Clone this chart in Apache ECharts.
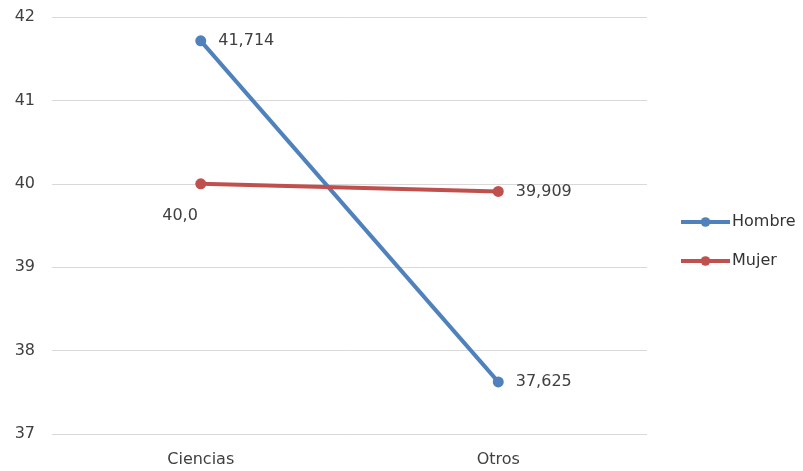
<!DOCTYPE html>
<html><head><meta charset="utf-8">
<script src="https://cdn.jsdelivr.net/npm/echarts@6/dist/echarts.min.js"></script>
<style>html,body{margin:0;padding:0;background:#fff}#c{width:803px;height:471px}</style>
</head><body><div id="c"></div>
<script>
const categories = ['Ciencias', 'Otros'];
const hombre = [41.714, 37.625];
const mujer = [40.0, 39.909];
const hombreLabels = ['41,714', '37,625'];
const mujerLabels = ['40,0', '39,909'];
const yTicks = [37, 38, 39, 40, 41, 42];

const font = 'DejaVu Sans, Liberation Sans, sans-serif';
const chart = echarts.init(document.getElementById('c'));
chart.setOption({
  animation: false,
  grid: {left: 52, right: 156, top: 17, bottom: 37},
  legend: {
    orient: 'vertical', left: 674, top: 209, itemGap: 23,
    itemWidth: 49, itemHeight: 12,
    lineStyle: {width: 4},
    textStyle: {fontFamily: font, fontSize: 16, color: '#333', padding: [0, 0, 0, -3]},
    data: ['Hombre', 'Mujer']
  },
  xAxis: {
    type: 'category', data: categories, boundaryGap: true,
    axisLine: {show: false}, axisTick: {show: false},
    axisLabel: {fontFamily: font, fontSize: 16, color: '#404040', margin: 18}
  },
  yAxis: {
    type: 'value', min: yTicks[0], max: yTicks[yTicks.length - 1], interval: 1,
    axisLine: {show: false}, axisTick: {show: false},
    splitLine: {lineStyle: {color: '#d9d9d9', width: 1}},
    axisLabel: {fontFamily: font, fontSize: 16, color: '#404040', margin: 17}
  },
  series: [
    {
      name: 'Hombre', type: 'line', data: hombre,
      symbol: 'circle', symbolSize: 11,
      lineStyle: {color: '#4F81BD', width: 4},
      itemStyle: {color: '#4F81BD'},
      label: {show: true, position: 'right', distance: 12,
        fontFamily: font, fontSize: 16, color: '#404040',
        formatter: p => hombreLabels[p.dataIndex]}
    },
    {
      name: 'Mujer', type: 'line', data: mujer,
      symbol: 'circle', symbolSize: 11,
      lineStyle: {color: '#C0504D', width: 4},
      itemStyle: {color: '#C0504D'},
      label: {show: true, position: 'right', distance: 12,
        fontFamily: font, fontSize: 16, color: '#404040',
        formatter: p => mujerLabels[p.dataIndex]},
      labelLayout: function (params) {
        if (params.dataIndex === 0) {
          return {x: params.rect.x - 33, y: params.rect.y + 30};
        }
        return {};
      }
    }
  ]
});
</script></body></html>
